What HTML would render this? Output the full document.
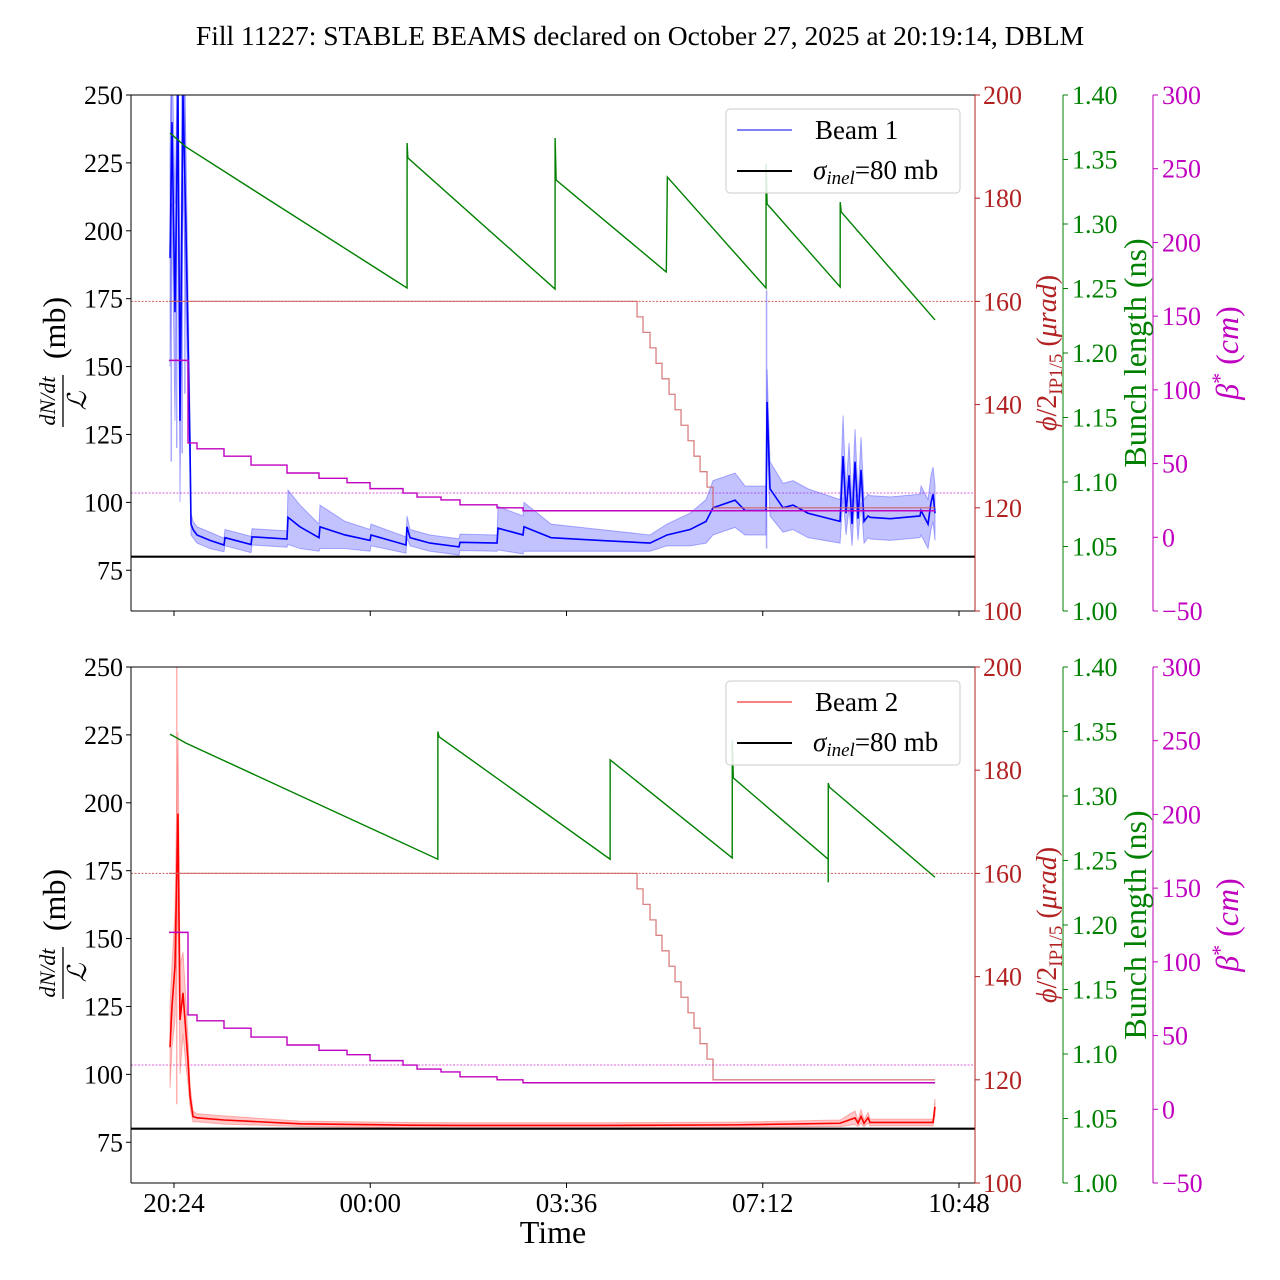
<!DOCTYPE html>
<html><head><meta charset="utf-8"><style>
body{margin:0;background:#fff}
svg{display:block;font-family:"Liberation Serif","DejaVu Serif",serif}
</style></head><body>
<svg id="chart" width="1280" height="1280" viewBox="0 0 1280 1280" xmlns="http://www.w3.org/2000/svg">
<text x="640" y="45" font-size="27.5" text-anchor="middle">Fill 11227: STABLE BEAMS declared on October 27, 2025 at 20:19:14, DBLM</text>
<text x="553" y="1243" font-size="32" text-anchor="middle">Time</text>
</svg>
<script>
// ---- data ----
const xTickLabels = ["20:24","00:00","03:36","07:12","10:48"];
const xTickHours = [20.4, 24.0, 27.6, 31.2, 34.8];
const leftTicks = [75,100,125,150,175,200,225,250];
const redTicks = [100,120,140,160,180,200];
const greenTicks = [1.00,1.05,1.10,1.15,1.20,1.25,1.30,1.35,1.40];
const magTicks = [-50,0,50,100,150,200,250,300];

const b1T = [20.327,20.363,20.418,20.473,20.51,20.565,20.62,20.657,20.694,20.712,20.749,20.822,21.06,21.317,21.336,21.813,21.831,22.473,22.491,22.711,23.06,23.078,23.537,23.996,24.014,24.656,24.674,24.73,25.096,25.628,25.647,26.326,26.344,26.802,26.82,27.316,28.215,29.132,29.444,29.866,30.16,30.288,30.692,30.875,31.26,31.279,31.333,31.572,31.756,32.031,32.618,32.673,32.728,32.783,32.838,32.893,32.948,33.003,33.058,33.132,33.168,33.535,34.085,34.104,34.232,34.287,34.324,34.36];
const b1V = [190,240,170,250,130,250,200,160,120,92,90,88,86,84.3,87,84.5,87.3,86.5,94.5,91,87,91,88,86,88,84.3,91,87,85,83.6,85.3,85,90.5,88,91,87,86,85,88,90,93,98,100.8,97,97,137,105,98,99,96,93,117,96,110,92,115,94,112,93,95,94.5,94,95,97,92,100,103,96];
const b1Band = [40,30,40,20,30,30,30,20,10,4,3,3,3,2.5,3,3,3,3,10,8,5,8,5,4,4,3,4,3,3,3,3,3,8,7,9,5,4,3,4,6,8,10,10,9,9,12,10,9,9,9,8,15,8,12,8,12,8,12,8,8,8,8,8,9,9,10,10,10];
const b1SpikeT = [20.35,20.45,20.55,20.6,31.27];
const b1SpikeLo = [115,120,118,140,83];
const b1SpikeHi = [250,250,250,250,178];

const b2T = [20.327,20.363,20.418,20.473,20.51,20.565,20.62,20.657,20.694,20.749,20.822,21.317,22.711,24.656,25.647,28.215,30.692,32.618,32.893,32.948,33.003,33.058,33.132,33.168,34.324,34.36];
const b2V = [110,125,140,196,120,130,115,105,92,84.5,84,83.2,81.8,81.3,81.2,81.2,81.4,82,84,82,84.5,82,84,82.3,82.3,88];
const b2Band = [15,15,20,30,20,15,12,8,4,2,1.5,1.5,1,1,1,1,1,1.2,2.5,1.2,2.5,1.2,2,1.2,1.2,3];
const b2SpikeT = [20.45];
const b2SpikeLo = [89];
const b2SpikeHi = [250];

const g1T = [20.327,20.62,24.675,24.676,24.69,27.39,27.391,27.41,29.43,29.431,29.45,31.26,31.261,31.28,32.62,32.621,32.64,34.36];
const g1V = [1.3705,1.3597,1.2504,1.3628,1.3512,1.2496,1.3667,1.3341,1.2628,1.2628,1.3364,1.2504,1.3465,1.3155,1.2512,1.317,1.3093,1.2256];
const g2T = [20.327,20.62,25.24,25.241,25.26,28.4,28.401,30.64,30.641,30.66,32.40,32.401,32.402,32.42,34.36];
const g2V = [1.348,1.341,1.251,1.350,1.346,1.251,1.328,1.252,1.343,1.314,1.251,1.233,1.310,1.307,1.237];

const magT = [20.308,20.657,20.822,21.317,21.813,22.473,23.06,23.574,23.996,24.601,24.858,25.298,25.647,26.326,26.802];
const magV = [120,64,60,55,49,43.6,40,37,33,30,27.3,25.3,22,20,18];
const magEnd = 34.36;

const redT = [20.308,28.894,29.004,29.132,29.242,29.352,29.481,29.591,29.701,29.829,29.939,30.05,30.178,30.288];
const redV = [160,157,154,151,148,145,142,139,136,133,130,127,124,120];
const redEnd = 34.36;

// ---- scales ----
const X0=131,X1=975;
const xs = h => 174 + (h-20.4)*(785/14.4);
const svg = document.getElementById('chart');
const NS='http://www.w3.org/2000/svg';
function mk(tag, attrs, parent){const e=document.createElementNS(NS,tag);for(const k in attrs)e.setAttribute(k,attrs[k]);(parent||svg).appendChild(e);return e;}
const RED='#b22222',GREEN='#008000',MAG='#bf00bf';
const TF=26;

function panel(y0, idx, T, V, Band, sT, sLo, sHi, gT, gV, color, fillColor, legendLabel){
  const H=516, yB=y0+H;
  const yl = v => yB - (v-60)*H/190;
  const yr = v => yB - (v-100)*H/100;
  const yg = v => yB - (v-1)*H/0.4;
  const ym = v => yB - (v+50)*H/350;
  const g = mk('g',{});
  
  
  const clipId='clip'+idx;
  const cp=mk('clipPath',{id:clipId},g); mk('rect',{x:X0,y:y0,width:X1-X0,height:H},cp);
  const pg = mk('g',{'clip-path':'url(#'+clipId+')'},g);
  const r160 = mk('line',{x1:X0,x2:X1,y1:yr(160),y2:yr(160),stroke:'#d06060','stroke-width':1,'stroke-dasharray':'2,1.5'},pg);
  
  
  const m30 = mk('line',{x1:X0,x2:X1,y1:ym(30),y2:ym(30),stroke:'#e060e0','stroke-width':1,'stroke-dasharray':'2,1.5'},pg);
  
  
  let up=[],lo=[];
  for(let i=0;i<T.length;i++){up.push(xs(T[i])+','+yl(V[i]+Band[i]));lo.unshift(xs(T[i])+','+yl(V[i]-Band[i]));}
  const band=mk('polygon',{points:up.concat(lo).join(' '),fill:fillColor,'fill-opacity':0.32,stroke:fillColor,'stroke-opacity':0.4,'stroke-width':1},pg);
  
  
  for(let i=0;i<sT.length;i++){
    const s=mk('line',{x1:xs(sT[i]),x2:xs(sT[i]),y1:yl(sLo[i]),y2:yl(sHi[i]),stroke:fillColor,'stroke-opacity':0.45,'stroke-width':1.5},pg);
    
    
  }
  const line=mk('polyline',{points:T.map((t,i)=>xs(t)+','+yl(V[i])).join(' '),fill:'none',stroke:color,'stroke-width':1.6},pg);
  
  
  const sig=mk('line',{x1:X0,x2:X1,y1:yl(80),y2:yl(80),stroke:'#000','stroke-width':2.2},pg);
  
  
  let rp=[];
  for(let i=0;i<redT.length;i++){ if(i>0) rp.push(xs(redT[i])+','+yr(redV[i-1])); rp.push(xs(redT[i])+','+yr(redV[i])); }
  rp.push(xs(redEnd)+','+yr(redV[redV.length-1]));
  const rl=mk('polyline',{points:rp.join(' '),fill:'none',stroke:'#d06060','stroke-width':1.3,'stroke-opacity':0.8},pg);
  
  
  let mp=[];
  for(let i=0;i<magT.length;i++){ if(i>0) mp.push(xs(magT[i])+','+ym(magV[i-1])); mp.push(xs(magT[i])+','+ym(magV[i])); }
  mp.push(xs(magEnd)+','+ym(magV[magV.length-1]));
  const ml=mk('polyline',{points:mp.join(' '),fill:'none',stroke:MAG,'stroke-width':1.4},pg);
  
  
  const gl=mk('polyline',{points:gT.map((t,i)=>xs(t)+','+yg(gV[i])).join(' '),fill:'none',stroke:GREEN,'stroke-width':1.4},pg);
  
  
  mk('line',{x1:X0,x2:X1,y1:y0,y2:y0,stroke:'#000','stroke-width':1},g);
  mk('line',{x1:X0,x2:X1,y1:yB,y2:yB,stroke:'#000','stroke-width':1},g);
  mk('line',{x1:X0,x2:X0,y1:y0,y2:yB,stroke:'#000','stroke-width':1},g);
  mk('line',{x1:X1,x2:X1,y1:y0,y2:yB,stroke:RED,'stroke-width':1},g);
  mk('line',{x1:1063,x2:1063,y1:y0,y2:yB,stroke:GREEN,'stroke-width':1},g);
  mk('line',{x1:1153,x2:1153,y1:y0,y2:yB,stroke:MAG,'stroke-width':1},g);
  leftTicks.forEach(v=>{const y=yl(v);mk('line',{x1:X0-5,x2:X0,y1:y,y2:y,stroke:'#000'},g);
    const t=mk('text',{x:X0-8,y:y+9,'font-size':TF,'text-anchor':'end'},g);t.textContent=v;
    
    });
  redTicks.forEach(v=>{const y=yr(v);mk('line',{x1:X1,x2:X1+5,y1:y,y2:y,stroke:RED},g);
    const t=mk('text',{x:X1+8,y:y+9,'font-size':TF,fill:RED},g);t.textContent=v;
    
    });
  greenTicks.forEach(v=>{const y=yg(v);mk('line',{x1:1063,x2:1068,y1:y,y2:y,stroke:GREEN},g);
    const t=mk('text',{x:1072,y:y+9,'font-size':TF,fill:GREEN},g);t.textContent=v.toFixed(2);
    
    });
  magTicks.forEach(v=>{const y=ym(v);mk('line',{x1:1153,x2:1158,y1:y,y2:y,stroke:MAG},g);
    const t=mk('text',{x:1162,y:y+9,'font-size':TF,fill:MAG},g);t.textContent=(v<0?'\u2212'+(-v):v);
    
    });
  xTickHours.forEach((h,i)=>{const x=xs(h);mk('line',{x1:x,x2:x,y1:yB,y2:yB+5,stroke:'#000'},g);
    if(idx===2){const t=mk('text',{x:x,y:yB+29,'font-size':27,'text-anchor':'middle'},g);t.textContent=xTickLabels[i];
      
      }});
  const cy=y0+258;
  const lt=mk('g',{transform:'translate(64,'+cy+') rotate(-90)'},g);
  
  
  const a=mk('text',{x:-48,y:-9,'font-size':22,'font-style':'italic','text-anchor':'middle'},lt);a.textContent='dN/dt';
  mk('line',{x1:-74,x2:-22,y1:-1,y2:-1,stroke:'#000','stroke-width':1.3},lt);
  const b=mk('text',{x:-48,y:22,'font-size':26,'font-style':'italic','text-anchor':'middle'},lt);b.textContent='\u2112';
  const c=mk('text',{x:25,y:1,'font-size':32,'text-anchor':'middle'},lt);c.textContent='(mb)';
  const rt=mk('text',{transform:'translate(1056,'+cy+') rotate(-90)','font-size':28,fill:RED,'text-anchor':'middle'},g);
  rt.innerHTML='<tspan font-style="italic">ϕ</tspan>/2<tspan font-size="19" dy="6">IP1/5</tspan><tspan dy="-6"> (</tspan><tspan font-style="italic">μrad</tspan>)';
  
  
  const gt=mk('text',{transform:'translate(1146,'+cy+') rotate(-90)','font-size':32,fill:GREEN,'text-anchor':'middle'},g);gt.textContent='Bunch length (ns)';
  
  
  const mt=mk('text',{transform:'translate(1238,'+cy+') rotate(-90)','font-size':32,fill:MAG,'text-anchor':'middle'},g);
  mt.innerHTML='<tspan font-style="italic">β</tspan><tspan font-size="22" dy="-11">*</tspan><tspan dy="11">  (</tspan><tspan font-style="italic">cm</tspan>)';
  
  
  const lg=mk('g',{},g);
  
  
  mk('rect',{x:726,y:y0+14,width:234,height:84,rx:4,fill:'#fff','fill-opacity':0.85,stroke:'#ccc'},lg);
  mk('line',{x1:737,x2:792,y1:y0+35,y2:y0+35,stroke:color,'stroke-width':1},lg);
  const l1=mk('text',{x:815,y:y0+44,'font-size':27},lg);l1.textContent=legendLabel;
  
  
  mk('line',{x1:737,x2:792,y1:y0+76,y2:y0+76,stroke:'#000','stroke-width':2},lg);
  const l2=mk('text',{x:813,y:y0+84,'font-size':27},lg);
  l2.innerHTML='<tspan font-style="italic">σ</tspan><tspan font-size="19" dy="5" font-style="italic">inel</tspan><tspan dy="-5">=80 mb</tspan>';
  
  
}
panel(95,1,b1T,b1V,b1Band,b1SpikeT,b1SpikeLo,b1SpikeHi,g1T,g1V,'#0000ff','#4040ff','Beam 1');
panel(667,2,b2T,b2V,b2Band,b2SpikeT,b2SpikeLo,b2SpikeHi,g2T,g2V,'#ff0000','#ff5050','Beam 2');
</script>
</body></html>
